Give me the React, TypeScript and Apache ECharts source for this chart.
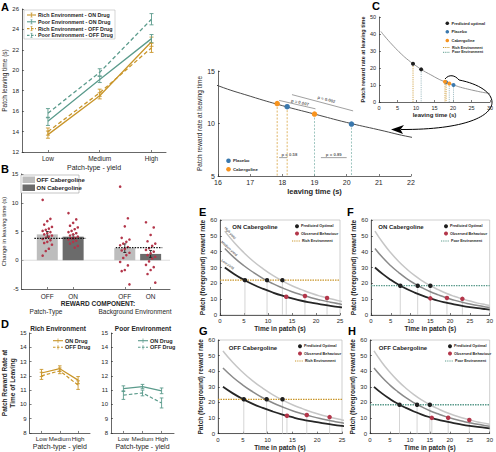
import React, { useEffect, useRef } from "react";
import * as echarts from "echarts";

// ---------------- DATA ----------------
const yieldLabels = ["Low", "Medium", "High"];
const yieldPos = [1, 2, 3];

// Panel A – patch leaving time (s)
const richOnLeave = [13.7, 17.5, 22.8];
const richOnLeaveErr = [0.35, 0.3, 0.45];
const poorOnLeave = [15.0, 19.1, 23.1];
const poorOnLeaveErr = [0.4, 0.3, 0.4];
const richOffLeave = [14.0, 17.8, 22.2];
const richOffLeaveErr = [0.35, 0.35, 0.45];
const poorOffLeave = [15.8, 19.8, 25.0];
const poorOffLeaveErr = [0.45, 0.35, 0.55];

// Panel B – change in leaving time (s)
const bCats = ["OFF", "ON", "OFF", "ON"];
const bPos = [1, 2, 4, 5];
const bMeans = [4.5, 4.1, 2.1, 1.1];
const bErr = [0.5, 0.35, 0.75, 0.6];
const bPatchOff = [10.5, 7.2, 6.8, 6.2, 5.8, 5.5, 5.3, 5.1, 4.9, 4.7, 4.5, 4.3, 4.1, 3.9, 3.7, 3.5, 3.2, 3.0, 2.7, 2.0, 1.6, 0.8];
const bPatchOn = [8.2, 7.1, 6.5, 6.0, 5.7, 5.4, 5.1, 4.9, 4.7, 4.5, 4.3, 4.1, 3.9, 3.8, 3.6, 3.4, 3.2, 2.9, 2.5, 2.2];
const bBgOff = [12.8, 7.3, 5.9, 3.9, 3.6, 3.2, 2.9, 2.6, 2.3, 2.0, 1.7, 1.3, 0.9, 0.4, -0.3, -0.9, -1.7, -1.9, -4.2];
const bBgOn = [6.6, 5.7, 4.4, 3.3, 2.9, 2.5, 2.1, 1.8, 1.5, 1.2, 0.9, 0.6, 0.3, -0.2, -0.8, -1.2, -1.7, -2.4, -3.9];
const bGroupMeans = [3.8, 2.2];
const bGroupSpans = [[0.5, 2.5], [3.65, 5.45]];

// Panel D – patch reward rate at time of leaving
const dRichOn = [12.2, 12.5, 11.7];
const dRichOnErr = [0.25, 0.2, 0.25];
const dRichOff = [12.0, 12.35, 11.35];
const dRichOffErr = [0.25, 0.2, 0.3];
const dPoorOn = [11.1, 11.25, 10.95];
const dPoorOnErr = [0.2, 0.15, 0.2];
const dPoorOff = [10.65, 10.8, 10.1];
const dPoorOffErr = [0.3, 0.2, 0.35];

// Panel C and the enlarged middle chart
const leaveCurveT = [0.5, 2, 4, 6, 8, 10, 12, 14, 16, 17, 18, 19, 20, 21, 22, 24, 26, 28, 30];
const leaveCurveR = [41.5, 37.5, 32.7, 28.3, 24.5, 21.3, 18.4, 16.0, 13.6, 12.6, 11.7, 10.9, 10.1, 9.4, 8.7, 7.6, 6.6, 5.7, 5.0];
const optimalT = [9.2, 11.4];
const optimalR = [22.5, 19.2];
const placeboT = [18.15, 20.15];
const placeboR = [11.6, 9.95];
const cabT = [17.84, 19.0];
const cabR = [11.9, 10.9];
const sigLines = [
  [[17.9, 12.2], [19.03, 11.4]],
  [[18.3, 12.75], [20.2, 11.2]],
  [[17.9, 6.75], [18.15, 6.75]],
  [[19.2, 6.75], [20.0, 6.75]],
];
const sigLabels = [
  { t: 18.55, r: 12.0, text: "p = 0.007", rot: -13 },
  { t: 19.37, r: 12.3, text: "p = 0.002", rot: -15 },
  { t: 18.22, r: 7.05, text: "p = 0.58", rot: 0 },
  { t: 19.6, r: 7.05, text: "p = 0.89", rot: 0 },
];

// Panels E–H – foreground reward rate curves
const patchT = [1, 3, 5, 7, 9, 11, 13, 15, 17, 19, 21, 23, 25, 27, 29, 30];
const highYield = [53, 45.6, 39.3, 33.8, 29.1, 25.0, 21.5, 18.5, 16.0, 13.7, 11.8, 10.2, 8.8, 7.5, 6.5, 6.0];
const mediumYield = [42, 36.1, 31.1, 26.8, 23.0, 19.8, 17.1, 14.7, 12.7, 10.9, 9.4, 8.1, 6.9, 6.0, 5.1, 4.8];
const lowYield = [30, 25.8, 22.2, 19.1, 16.5, 14.2, 12.2, 10.5, 9.0, 7.8, 6.7, 5.8, 5.0, 4.3, 3.7, 3.4];
const richEnvRate = 22;
const poorEnvRate = 18.5;
const eOptT = [5.2, 9.8, 13.0];
const eObsT = [13.8, 17.7, 22.3];
const eObsR = [11.5, 12.0, 10.7];
const fOptT = [7.4, 11.8, 15.0];
const fObsT = [15.0, 19.2, 23.1];
const fObsR = [10.5, 10.8, 10.2];
const gOptT = [5.2, 9.8, 13.0];
const gObsT = [13.9, 17.9, 22.5];
const gObsR = [11.5, 11.9, 10.6];
const hOptT = [7.4, 11.8, 15.0];
const hObsT = [15.5, 19.6, 24.9];
const hObsR = [10.1, 10.2, 8.7];

// ---------------- STYLE ----------------
const FONT = "Liberation Sans, Arial, Helvetica, sans-serif";
const INK = "#262626";
const GOLD = "#c9962b";
const GREEN = "#5b9b8c";
const ORANGE = "#f7931e";
const BLUE = "#3a78ad";
const RED = "#b3364a";
const LIGHTBAR = "#bdbdbd";
const DARKBAR = "#6b6b6b";

function mkAxis(grid: number, min: number, max: number, o: any = {}) {
  const ax: any = {
    type: "value",
    gridIndex: grid,
    min,
    max,
    name: o.name,
    nameLocation: "middle",
    nameGap: o.nameGap ?? 10,
    nameTextStyle: {
      fontSize: o.nameSize ?? 6.5,
      fontFamily: FONT,
      color: INK,
      fontWeight: o.nameBold ? "bold" : "normal",
      lineHeight: o.nameLH ?? (o.nameSize ?? 6.5) * 1.15,
    },
    axisLine: { show: true, onZero: false, lineStyle: { color: INK, width: 0.7 } },
    axisTick: { show: true, inside: true, length: 2, lineStyle: { color: INK, width: 0.6 } },
    axisLabel: {
      fontSize: o.labelSize ?? 6,
      color: INK,
      fontFamily: FONT,
      margin: o.margin ?? 3,
      showMinLabel: true,
      showMaxLabel: true,
      hideOverlap: false,
    },
    splitLine: { show: false },
  };
  if (o.interval !== undefined) ax.interval = o.interval;
  if (o.customValues) {
    ax.axisLabel.customValues = o.customValues;
    ax.axisTick.customValues = o.customValues;
  }
  if (o.formatter) ax.axisLabel.formatter = o.formatter;
  return ax;
}

function lineS(g: number, xs: number[], ys: number[], color: string, type: any, width: number, extra: any = {}) {
  return {
    type: "line",
    xAxisIndex: g,
    yAxisIndex: g,
    data: xs.map((x, i) => [x, ys[i]]),
    symbol: "none",
    lineStyle: { color, width, type },
    itemStyle: { color },
    silent: true,
    z: 2,
    ...extra,
  };
}

function errS(g: number, xs: number[], ys: number[], es: number[], color: string, cap = 2, width = 0.9) {
  return {
    type: "custom",
    xAxisIndex: g,
    yAxisIndex: g,
    data: xs.map((x, i) => [x, ys[i], es[i]]),
    encode: { x: 0, y: 1 },
    silent: true,
    z: 3,
    renderItem: (_p: any, api: any) => {
      const x = api.value(0), y = api.value(1), e = api.value(2);
      const t = api.coord([x, y + e]);
      const b = api.coord([x, y - e]);
      const st = { stroke: color, lineWidth: width };
      return {
        type: "group",
        children: [
          { type: "line", shape: { x1: t[0], y1: t[1], x2: b[0], y2: b[1] }, style: st },
          { type: "line", shape: { x1: t[0] - cap, y1: t[1], x2: t[0] + cap, y2: t[1] }, style: st },
          { type: "line", shape: { x1: b[0] - cap, y1: b[1], x2: b[0] + cap, y2: b[1] }, style: st },
        ],
      };
    },
  };
}

function dropS(g: number, xs: number[], ys: number[], yMin: number, color: string, dash: any, width = 0.8) {
  return {
    type: "custom",
    xAxisIndex: g,
    yAxisIndex: g,
    data: xs.map((x, i) => [x, ys[i]]),
    encode: { x: 0, y: 1 },
    silent: true,
    z: 1,
    renderItem: (_p: any, api: any) => {
      const a = api.coord([api.value(0), api.value(1)]);
      const b = api.coord([api.value(0), yMin]);
      return {
        type: "line",
        shape: { x1: a[0], y1: a[1], x2: b[0], y2: b[1] },
        style: { stroke: color, lineWidth: width, lineDash: dash },
      };
    },
  };
}

function dotS(g: number, xs: number[], ys: number[], color: string, size: number, z = 5) {
  return {
    type: "scatter",
    xAxisIndex: g,
    yAxisIndex: g,
    data: xs.map((x, i) => [x, ys[i]]),
    symbolSize: size,
    itemStyle: { color, opacity: 1 },
    silent: true,
    z,
  };
}

// graphic helpers
const T = (x: number, y: number, text: string, size: number, o: any = {}) => ({
  type: "text",
  x,
  y,
  rotation: o.rot ?? 0,
  z: 100,
  silent: true,
  style: {
    text,
    fontSize: size,
    fontFamily: FONT,
    fontWeight: o.bold ? "bold" : "normal",
    fill: o.color ?? INK,
    align: o.align ?? "left",
    verticalAlign: o.va ?? "middle",
    textAlign: o.align ?? "left",
    textVerticalAlign: o.va ?? "middle",
  },
});
const L = (x1: number, y1: number, x2: number, y2: number, color: string, w = 1, dash?: any) => ({
  type: "line",
  z: 100,
  silent: true,
  shape: { x1, y1, x2, y2 },
  style: { stroke: color, lineWidth: w, lineDash: dash },
});
const Ci = (cx: number, cy: number, r: number, color: string) => ({
  type: "circle",
  z: 100,
  silent: true,
  shape: { cx, cy, r },
  style: { fill: color },
});
const R = (x: number, y: number, w: number, h: number, fill: string, stroke?: string, lw = 0.5) => ({
  type: "rect",
  z: 99,
  silent: true,
  shape: { x, y, width: w, height: h },
  style: { fill, stroke, lineWidth: lw },
});

function buildOption() {
  const yieldFmt = (v: number) => yieldLabels[Math.round(v) - 1] ?? "";
  const bFmt = (v: number) => bCats[bPos.indexOf(Math.round(v))] ?? "";

  const grid = [
    { left: 20, top: 9, width: 146, height: 143 }, // A
    { left: 20, top: 174, width: 150, height: 115 }, // B
    { left: 28, top: 333, width: 62, height: 102 }, // D rich
    { left: 111, top: 333, width: 63, height: 102 }, // D poor
    { left: 218, top: 71, width: 193, height: 105 }, // middle
    { left: 379, top: 17, width: 111, height: 85 }, // C
    { left: 220, top: 220, width: 120, height: 95, show: true, borderColor: "#b0b0b0", borderWidth: 0.6 }, // E
    { left: 371, top: 220, width: 119, height: 95, show: true, borderColor: "#b0b0b0", borderWidth: 0.6 }, // F
    { left: 218, top: 340, width: 124, height: 95, show: true, borderColor: "#b0b0b0", borderWidth: 0.6 }, // G
    { left: 370, top: 340, width: 121, height: 95, show: true, borderColor: "#b0b0b0", borderWidth: 0.6 }, // H
  ];

  const xAxis = [
    mkAxis(0, 0.5, 3.28, { customValues: yieldPos, formatter: yieldFmt, name: "Patch-type - yield", nameGap: 11, nameSize: 7, labelSize: 6.5 }),
    mkAxis(1, 0, 5.75, { customValues: bPos, formatter: bFmt, labelSize: 6.5, margin: 4 }),
    mkAxis(2, 0.35, 3.65, { customValues: yieldPos, formatter: yieldFmt, name: "Patch-type - yield", nameGap: 10, nameSize: 7, labelSize: 6.2 }),
    mkAxis(3, 0.35, 3.65, { customValues: yieldPos, formatter: yieldFmt, name: "Patch-type - yield", nameGap: 10, nameSize: 7, labelSize: 6.2 }),
    mkAxis(4, 16, 22, { interval: 1, name: "leaving time (s)", nameGap: 9, nameSize: 7.5, nameBold: true, labelSize: 7 }),
    mkAxis(5, 0, 30, { interval: 5, name: "leaving time (s)", nameGap: 8, nameSize: 6, nameBold: true, labelSize: 5.5 }),
    mkAxis(6, 0, 25, { interval: 5, name: "Time in patch (s)", nameGap: 9, nameSize: 6.5, nameBold: true, labelSize: 6 }),
    mkAxis(7, 0, 30, { interval: 5, name: "Time in patch (s)", nameGap: 9, nameSize: 6.5, nameBold: true, labelSize: 6 }),
    mkAxis(8, 0, 25, { interval: 5, name: "Time in patch (s)", nameGap: 8, nameSize: 6.5, nameBold: true, labelSize: 6 }),
    mkAxis(9, 0, 30, { interval: 5, name: "Time in patch (s)", nameGap: 8, nameSize: 6.5, nameBold: true, labelSize: 6 }),
  ];

  const yAxis = [
    mkAxis(0, 12, 26, { interval: 2, name: "Patch leaving time (s)", nameGap: 10, nameSize: 6.5, labelSize: 6 }),
    mkAxis(1, -5, 15, { interval: 5, name: "Change in leaving time (s)", nameGap: 10, nameSize: 6, labelSize: 6 }),
    mkAxis(2, 8, 15, { interval: 1, name: "Patch Reward Rate at\nTime of Leaving", nameGap: 9, nameSize: 6.5, nameBold: true, nameLH: 7.5, labelSize: 6 }),
    mkAxis(3, 8, 15, { interval: 1, labelSize: 6 }),
    mkAxis(4, 5, 15, { interval: 5, name: "Patch reward rate at leaving time", nameGap: 11, nameSize: 6.5, labelSize: 7 }),
    mkAxis(5, 0, 50, { interval: 10, name: "Patch reward rate at leaving time", nameGap: 9, nameSize: 5.5, nameBold: true, labelSize: 5.5 }),
    mkAxis(6, 0, 60, { interval: 10, name: "Patch (foreground) reward rate", nameGap: 11, nameSize: 6.5, nameBold: true, labelSize: 6 }),
    mkAxis(7, 0, 60, { interval: 10, name: "Patch (foreground) reward rate", nameGap: 12, nameSize: 6.5, nameBold: true, labelSize: 6 }),
    mkAxis(8, 0, 60, { interval: 10, name: "Patch (foreground) reward rate", nameGap: 10, nameSize: 6.5, nameBold: true, labelSize: 6 }),
    mkAxis(9, 0, 60, { interval: 10, name: "Patch (foreground) reward rate", nameGap: 12, nameSize: 6.5, nameBold: true, labelSize: 6 }),
  ];

  const series: any[] = [];

  // ---- A ----
  const aSets = [
    { v: richOnLeave, e: richOnLeaveErr, c: GOLD, dash: false },
    { v: poorOnLeave, e: poorOnLeaveErr, c: GREEN, dash: false },
    { v: richOffLeave, e: richOffLeaveErr, c: GOLD, dash: true },
    { v: poorOffLeave, e: poorOffLeaveErr, c: GREEN, dash: true },
  ];
  aSets.forEach((s) => {
    series.push(lineS(0, yieldPos, s.v, s.c, s.dash ? [4, 2.5] : "solid", 1.3));
    series.push(errS(0, yieldPos, s.v, s.e, s.c, 2));
  });

  // ---- B ----
  series.push(lineS(1, [0, 5.75], [0, 0], "#c8c8c8", "solid", 0.6, { z: 1 }));
  series.push({
    type: "bar",
    xAxisIndex: 1,
    yAxisIndex: 1,
    data: [[bPos[0], bMeans[0]], [bPos[2], bMeans[2]]],
    barWidth: 21,
    barGap: "-100%",
    itemStyle: { color: LIGHTBAR },
    silent: true,
    z: 2,
  });
  series.push({
    type: "bar",
    xAxisIndex: 1,
    yAxisIndex: 1,
    data: [[bPos[1], bMeans[1]], [bPos[3], bMeans[3]]],
    barWidth: 21,
    barGap: "-100%",
    itemStyle: { color: DARKBAR },
    silent: true,
    z: 2,
  });
  const groups = [bPatchOff, bPatchOn, bBgOff, bBgOn];
  groups.forEach((vals, gi) => {
    const xs = vals.map((_, i) => bPos[gi] + (((i * 5) % 7) - 3) * 0.06);
    series.push(dotS(1, xs, vals, RED, 2.6, 4));
  });
  series.push(errS(1, bPos, bMeans, bErr, "#111", 1.5, 0.8));
  bGroupMeans.forEach((m, i) => {
    series.push(lineS(1, bGroupSpans[i], [m, m], "#111", [1.5, 1.2], 1.2, { z: 6 }));
  });

  // ---- D ----
  series.push(lineS(2, yieldPos, dRichOn, GOLD, "solid", 1.2));
  series.push(errS(2, yieldPos, dRichOn, dRichOnErr, GOLD, 1.8));
  series.push(lineS(2, yieldPos, dRichOff, GOLD, [3.5, 2], 1.2));
  series.push(errS(2, yieldPos, dRichOff, dRichOffErr, GOLD, 1.8));
  series.push(lineS(3, yieldPos, dPoorOn, GREEN, "solid", 1.2));
  series.push(errS(3, yieldPos, dPoorOn, dPoorOnErr, GREEN, 1.8));
  series.push(lineS(3, yieldPos, dPoorOff, GREEN, [3.5, 2], 1.2));
  series.push(errS(3, yieldPos, dPoorOff, dPoorOffErr, GREEN, 1.8));

  // ---- middle (enlarged) ----
  series.push(lineS(4, leaveCurveT, leaveCurveR, "#4a4a4a", "solid", 1, { smooth: true }));
  series.push(dropS(4, [cabT[0], placeboT[0]], [cabR[0], placeboR[0]], 5, "#d9a441", [2, 1.5], 0.8));
  series.push(dropS(4, [cabT[1], placeboT[1]], [cabR[1], placeboR[1]], 5, "#86b7b0", [2, 1.5], 0.8));
  series.push(dotS(4, placeboT, placeboR, BLUE, 5.5));
  series.push(dotS(4, cabT, cabR, ORANGE, 5.5));
  sigLines.forEach((seg) => {
    series.push(lineS(4, seg.map((p) => p[0]), seg.map((p) => p[1]), "#777", "solid", 0.7));
  });
  series.push({
    type: "scatter",
    xAxisIndex: 4,
    yAxisIndex: 4,
    symbolSize: 1,
    itemStyle: { color: "transparent" },
    silent: true,
    z: 7,
    data: sigLabels.map((s) => ({ value: [s.t, s.r], name: s.text, label: { rotate: s.rot } })),
    label: {
      show: true,
      position: "inside",
      formatter: "{b}",
      fontSize: 4.3,
      fontWeight: "bold",
      fontFamily: FONT,
      color: "#333",
    },
  });

  // ---- C ----
  series.push(lineS(5, leaveCurveT, leaveCurveR, "#8a8a8a", "solid", 0.9, { smooth: true }));
  series.push(dropS(5, [optimalT[0], cabT[0], placeboT[0]], [optimalR[0], cabR[0], placeboR[0]], 0, GOLD, [1.2, 1], 0.8));
  series.push(dropS(5, [optimalT[1], cabT[1], placeboT[1]], [optimalR[1], cabR[1], placeboR[1]], 0, "#8fb0b8", [1.2, 1], 0.8));
  series.push(dotS(5, optimalT, optimalR, "#1f1f1f", 4));
  series.push(dotS(5, placeboT, placeboR, BLUE, 4));
  series.push(dotS(5, cabT, cabR, ORANGE, 4));

  // ---- E–H ----
  const panels = [
    { g: 6, opt: eOptT, obsT: eObsT, obsR: eObsR, env: richEnvRate, col: GOLD, xmax: 25 },
    { g: 7, opt: fOptT, obsT: fObsT, obsR: fObsR, env: poorEnvRate, col: GREEN, xmax: 30 },
    { g: 8, opt: gOptT, obsT: gObsT, obsR: gObsR, env: richEnvRate, col: GOLD, xmax: 25 },
    { g: 9, opt: hOptT, obsT: hObsT, obsR: hObsR, env: poorEnvRate, col: GREEN, xmax: 30 },
  ];
  panels.forEach((p) => {
    const optR = p.opt.map(() => p.env);
    series.push(dropS(p.g, [...p.opt, ...p.obsT], [...optR, ...p.obsR], 0, "#c9c9c9", null, 0.8));
    series.push(lineS(p.g, patchT, highYield, "#c6c6c6", "solid", 1.5, { smooth: true }));
    series.push(lineS(p.g, patchT, mediumYield, "#8a8a8a", "solid", 1.5, { smooth: true }));
    series.push(lineS(p.g, patchT, lowYield, "#262626", "solid", 1.8, { smooth: true }));
    series.push(lineS(p.g, [0, p.xmax], [p.env, p.env], p.col, [1.5, 1], 1.3, { z: 3 }));
    series.push(dotS(p.g, p.opt, optR, "#1f1f1f", 4.5));
    series.push(dotS(p.g, p.obsT, p.obsR, RED, 4.5));
  });

  // ---- graphics: letters, legends, annotations ----
  const gr: any[] = [];
  [["A", 1, 1], ["B", 1, 163], ["C", 372, 0], ["D", 1, 318], ["E", 199, 206], ["F", 347, 206], ["G", 199, 325], ["H", 348, 325]].forEach(
    ([t, x, y]: any) => gr.push(T(x, y, t, 11, { bold: true, va: "top", color: "#000" }))
  );

  // A legend
  gr.push(R(24, 10, 91, 29, "#fff", "#aaaaaa", 0.5));
  const aLeg = [
    { t: "Rich Environment - ON Drug", c: GOLD, d: null },
    { t: "Poor Environment - ON Drug", c: GREEN, d: null },
    { t: "Rich Environment - OFF Drug", c: GOLD, d: [2.5, 1.5] },
    { t: "Poor Environment - OFF Drug", c: GREEN, d: [2.5, 1.5] },
  ];
  aLeg.forEach((e, i) => {
    const y = 15 + i * 6.8;
    gr.push(L(27, y, 36, y, e.c, 1.1, e.d));
    gr.push(L(31.5, y - 2, 31.5, y + 2, e.c, 0.7));
    gr.push(L(30.5, y - 2, 32.5, y - 2, e.c, 0.7));
    gr.push(L(30.5, y + 2, 32.5, y + 2, e.c, 0.7));
    gr.push(T(38, y, e.t, 5.3, { bold: true }));
  });

  // B legend + texts
  gr.push(R(21, 175, 58, 18, "#fff", "#888", 0.5));
  gr.push(R(22.5, 176.5, 12.5, 6.5, LIGHTBAR));
  gr.push(R(22.5, 184.5, 12.5, 6.5, DARKBAR));
  gr.push(T(36.5, 179.8, "OFF Cabergoline", 6, { bold: true }));
  gr.push(T(36.5, 187.8, "ON Cabergoline", 6, { bold: true }));
  gr.push(T(98, 303, "REWARD COMPONENT:", 6.5, { bold: true, align: "center" }));
  gr.push(T(46, 311, "Patch-Type", 6.5, { align: "center" }));
  gr.push(T(135, 311, "Background Environment", 6.5, { align: "center" }));

  // D titles + legends
  gr.push(T(58, 328, "Rich Environment", 6.5, { bold: true, align: "center" }));
  gr.push(T(143, 328, "Poor Environment", 6.5, { bold: true, align: "center" }));
  [
    { x: 53, c: GOLD },
    { x: 138, c: GREEN },
  ].forEach((l) => {
    gr.push(L(l.x, 340.7, l.x + 10, 340.7, l.c, 1.1));
    gr.push(L(l.x + 5, 338.5, l.x + 5, 343, l.c, 0.7));
    gr.push(T(l.x + 12, 340.7, "ON Drug", 5.5, { bold: true }));
    gr.push(L(l.x, 347.3, l.x + 10, 347.3, l.c, 1.1, [2.5, 1.5]));
    gr.push(L(l.x + 5, 345.2, l.x + 5, 349.5, l.c, 0.7));
    gr.push(T(l.x + 12, 347.3, "OFF Drug", 5.5, { bold: true }));
  });

  // middle legend
  gr.push(Ci(228.5, 160.7, 2.3, BLUE));
  gr.push(T(233, 160.7, "Placebo", 4.3, { bold: true }));
  gr.push(Ci(228.5, 169.3, 2.3, ORANGE));
  gr.push(T(233, 169.3, "Cabergoline", 4.3, { bold: true }));

  // C legend
  gr.push(Ci(447.3, 23.3, 1.8, "#1f1f1f"));
  gr.push(T(451.5, 23.3, "Predicted optimal", 4, { bold: true }));
  gr.push(Ci(447.3, 31.7, 1.8, BLUE));
  gr.push(T(451.5, 31.7, "Placebo", 4, { bold: true }));
  gr.push(Ci(447.3, 40.5, 1.8, ORANGE));
  gr.push(T(451.5, 40.5, "Cabergoline", 4, { bold: true }));
  gr.push(L(443, 47.5, 450, 47.5, GOLD, 1, [1, 0.8]));
  gr.push(T(452, 47.5, "Rich Environment", 3.6, { bold: true }));
  gr.push(L(443, 52.3, 450, 52.3, GREEN, 1, [1, 0.8]));
  gr.push(T(452, 52.3, "Poor Environment", 3.6, { bold: true }));

  // big arrow from C to the enlarged chart
  gr.push({
    type: "bezierCurve",
    z: 100,
    silent: true,
    shape: { x1: 445, y1: 79, x2: 459, y2: 80, cpx1: 449, cpy1: 74, cpx2: 455, cpy2: 75 },
    style: { stroke: "#000", lineWidth: 1, fill: "none" },
  });
  gr.push({
    type: "bezierCurve",
    z: 100,
    silent: true,
    shape: { x1: 459, y1: 80, x2: 401, y2: 129.5, cpx1: 510, cpy1: 90, cpx2: 510, cpy2: 130 },
    style: { stroke: "#000", lineWidth: 1, fill: "none" },
  });
  gr.push({
    type: "polygon",
    z: 101,
    silent: true,
    shape: { points: [[391, 129.5], [404, 125], [400.5, 129.5], [403, 134]] },
    style: { fill: "#000" },
  });

  // E–H titles + legends
  const efgh = [
    { cx: 255, ty: 226.5, title: "ON Cabergoline", lx: 297, top: 220, env: "Rich Environment", col: GOLD },
    { cx: 401, ty: 226.5, title: "ON Cabergoline", lx: 446, top: 220, env: "Poor Environment", col: GREEN },
    { cx: 253, ty: 347.5, title: "OFF Cabergoline", lx: 300, top: 340, env: "Rich Environment", col: GOLD },
    { cx: 403, ty: 347.5, title: "OFF Cabergoline", lx: 450, top: 340, env: "Poor Environment", col: GREEN },
  ];
  efgh.forEach((p) => {
    gr.push(T(p.cx, p.ty, p.title, 6, { bold: true, align: "center" }));
    gr.push(Ci(p.lx, p.top + 6.3, 2, "#1f1f1f"));
    gr.push(T(p.lx + 4, p.top + 6.3, "Predicted Optimal", 3.8, { bold: true }));
    gr.push(Ci(p.lx, p.top + 13.6, 2, RED));
    gr.push(T(p.lx + 4, p.top + 13.6, "Observed Behaviour", 3.8, { bold: true }));
    gr.push(L(p.lx - 5, p.top + 21, p.lx + 3, p.top + 21, p.col, 1, [1, 0.8]));
    gr.push(T(p.lx + 5, p.top + 21, p.env, 3.6, { bold: true }));
  });
  // curve labels in E
  gr.push(T(230, 233, "High yield", 3.5, { rot: -0.85, align: "center" }));
  gr.push(T(229, 248.5, "Medium yield", 3.5, { rot: -0.75, align: "center" }));
  gr.push(T(227.5, 264.5, "Low yield", 3.5, { rot: -0.62, align: "center" }));

  return {
    animation: false,
    backgroundColor: "#fff",
    textStyle: { fontFamily: FONT },
    grid,
    xAxis,
    yAxis,
    series,
    graphic: { elements: gr },
  };
}

export default function App() {
  const ref = useRef<HTMLDivElement>(null);
  useEffect(() => {
    if (!ref.current) return;
    const chart = echarts.init(ref.current, null, { renderer: "svg" });
    chart.setOption(buildOption() as any);
    return () => chart.dispose();
  }, []);
  return (
    <div
      ref={ref}
      style={{ position: "absolute", left: 0, top: 0, width: 496, height: 452, background: "#fff" }}
    />
  );
}
